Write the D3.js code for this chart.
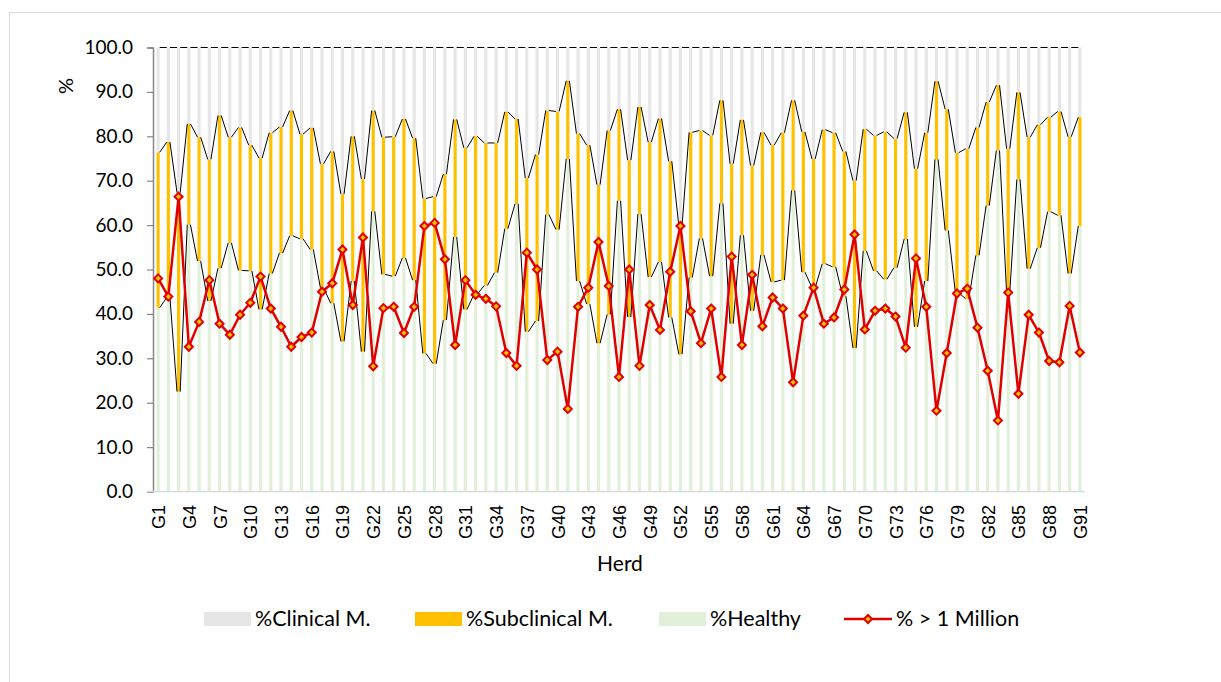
<!DOCTYPE html>
<html>
<head>
<meta charset="utf-8">
<script src="https://cdn.jsdelivr.net/npm/d3@7"></script>
<style>
body { margin: 0; background: #fff; }
svg { display: block; }
</style>
</head>
<body>
<script>
"use strict";
// herd names G1..G91
const herds = Array.from({length: 91}, (d, i) => "G" + (i + 1));
const healthy = [41.4,43.7,22.5,60.1,51.9,42.9,50.3,56.0,49.8,49.7,41.0,49.1,53.7,57.6,56.9,54.5,45.9,42.4,33.8,47.4,
	31.5,63.1,48.9,48.5,52.6,47.6,31.1,28.8,38.6,57.3,41.0,44.4,46.4,49.3,59.2,64.8,36.0,38.4,62.4,59.0,
	74.9,47.4,42.2,33.4,39.9,65.5,39.3,62.5,48.3,51.7,39.2,30.9,48.2,57.0,48.5,64.9,37.8,57.7,40.7,53.3,
	47.2,47.6,67.8,49.4,45.9,51.3,50.6,44.0,32.3,54.2,49.7,47.8,50.4,56.9,37.1,47.4,74.8,58.8,44.8,43.4,
	53.2,64.4,76.8,44.8,70.3,50.2,54.9,63.0,62.2,49.1,59.8];
const subclinical = [35.0,35.0,44.8,22.7,27.9,31.9,34.4,23.8,32.2,28.3,34.1,31.7,28.4,28.2,23.6,27.4,27.9,34.2,33.2,32.6,
	38.9,22.7,30.9,31.4,31.3,32.0,34.9,37.6,32.9,26.5,36.4,35.6,32.1,29.2,26.3,19.1,34.6,37.5,23.4,26.6,
	17.6,33.2,35.8,35.7,41.4,20.6,35.3,24.1,30.4,32.3,35.2,28.9,32.7,24.3,31.7,23.2,36.0,26.0,32.7,27.6,
	30.8,33.2,20.3,31.6,29.0,30.2,30.2,32.6,37.7,27.4,30.5,33.2,29.1,28.5,35.6,33.4,17.6,27.3,31.5,33.8,
	28.8,23.3,14.7,32.4,19.6,29.6,27.7,21.3,23.4,30.8,24.5];
const clinical = [23.6,21.3,32.7,17.2,20.2,25.2,15.3,20.2,18.0,22.0,24.9,19.2,17.9,14.2,19.5,18.1,26.2,23.4,33.0,20.0,
	29.6,14.2,20.2,20.1,16.1,20.4,34.0,33.6,28.5,16.2,22.6,20.0,21.5,21.5,14.5,16.1,29.4,24.1,14.2,14.4,
	7.5,19.4,22.0,30.9,18.7,13.9,25.4,13.4,21.3,16.0,25.6,40.2,19.1,18.7,19.8,11.9,26.2,16.3,26.6,19.1,
	22.0,19.2,11.9,19.0,25.1,18.5,19.2,23.4,30.0,18.4,19.8,19.0,20.5,14.6,27.3,19.2,7.6,13.9,23.7,22.8,
	18.0,12.3,8.5,22.8,10.1,20.2,17.4,15.7,14.4,20.1,15.7];
const overMillion = [48.0,43.9,66.4,32.6,38.2,47.6,37.8,35.3,39.8,42.5,48.4,41.2,37.1,32.6,34.8,35.8,45.0,46.9,54.5,42.0,
	57.2,28.2,41.3,41.6,35.7,41.6,59.8,60.5,52.3,33.0,47.6,44.3,43.4,41.7,31.2,28.3,53.8,50.0,29.6,31.5,
	18.6,41.6,45.9,56.2,46.3,25.8,50.0,28.3,42.0,36.4,49.5,59.8,40.6,33.4,41.2,25.8,52.9,33.0,48.8,37.2,
	43.7,41.2,24.6,39.6,45.9,37.8,39.2,45.5,57.9,36.5,40.7,41.2,39.4,32.4,52.5,41.6,18.2,31.2,44.6,45.7,
	36.9,27.2,16.0,44.8,22.0,39.8,35.8,29.4,29.1,41.8,31.3];
const yTicks = [0,10,20,30,40,50,60,70,80,90,100];
const seriesNames = ["%Clinical M.", "%Subclinical M.", "%Healthy", "% > 1 Million"];

const W = 1221, H = 682;
const colors = {healthy: "#E2F0D9", sub: "#FFC000", clin: "#E7E6E6", red: "#E00000"};
const svg = d3.select("body").append("svg").attr("width", W).attr("height", H);

svg.append("rect").attr("x", 9.5).attr("y", 12.5).attr("width", 1240).attr("height", 700)
	.attr("fill", "none").attr("stroke", "#D9D9D9");

const x = d3.scaleBand().domain(herds).range([153, 1085]).paddingInner(0.69).paddingOuter(0.345);
const y = d3.scaleLinear().domain([0, 100]).range([491.5, 47.5]);
const bw = x.bandwidth();

// stacked rows
const rows = herds.map((h, i) => ({herd: h, healthy: healthy[i], sub: subclinical[i], clin: clinical[i]}));
const stack = d3.stack().keys(["healthy", "sub", "clin"])(rows);
const fills = {healthy: colors.healthy, sub: colors.sub, clin: colors.clin};

svg.append("g").selectAll("g").data(stack).enter().append("g")
	.attr("fill", d => fills[d.key])
	.selectAll("rect").data(d => d).enter().append("rect")
	.attr("x", d => x(d.data.herd))
	.attr("y", d => y(d[1]))
	.attr("width", bw)
	.attr("height", d => y(d[0]) - y(d[1]));

// series lines between bars (Excel style)
const sl = svg.append("g").attr("stroke", "#000").attr("stroke-width", 1).attr("fill", "none");
stack.forEach(s => {
	for (let i = 0; i < s.length - 1; i++) {
		sl.append("line")
			.attr("x1", x(herds[i]) + bw).attr("y1", y(s[i][1]))
			.attr("x2", x(herds[i + 1])).attr("y2", y(s[i + 1][1]));
	}
});

// axes
const yAxis = d3.axisLeft(y).tickValues(yTicks).tickFormat(d3.format(".1f")).tickSize(6).tickPadding(14);
const gy = svg.append("g").attr("transform", "translate(153,0)").call(yAxis);
gy.select(".domain").attr("stroke", "#868686").attr("stroke-width", 1.5);
gy.selectAll(".tick line").attr("stroke", "#868686").attr("stroke-width", 1.2);
gy.selectAll(".tick text").attr("font-family", "Lato, 'Open Sans', sans-serif").attr("font-size", 19).attr("fill", "#000");

svg.append("line").attr("x1", 147).attr("x2", 1085).attr("y1", 491.5).attr("y2", 491.5)
	.attr("stroke", "#D9D9D9").attr("stroke-width", 1.5);

svg.append("g").selectAll("text").data(herds.filter((d, i) => i % 3 === 0)).enter().append("text")
	.attr("transform", d => "translate(" + (x(d) + bw / 2 + 1) + ",505) rotate(-90)")
	.attr("text-anchor", "end").attr("dominant-baseline", "central")
	.attr("font-family", "'Liberation Sans', Arial, sans-serif").attr("font-size", 18)
	.text(d => d);

svg.append("text").attr("x", 620).attr("y", 571).attr("text-anchor", "middle")
	.attr("font-family", "Lato, sans-serif").attr("font-size", 21).text("Herd");
svg.append("text").attr("transform", "translate(73,86) rotate(-90)").attr("text-anchor", "middle")
	.attr("font-family", "Lato, sans-serif").attr("font-size", 20).text("%");

// red line with diamond markers
const line = d3.line().x((d, i) => x(herds[i]) + bw / 2).y(d => y(d));
svg.append("path").datum(overMillion).attr("d", line)
	.attr("fill", "none").attr("stroke", colors.red).attr("stroke-width", 2.5).attr("stroke-linejoin", "round");
const diamond = "M0,-4L4,0L0,4L-4,0Z";
svg.append("g").selectAll("path").data(overMillion).enter().append("path")
	.attr("transform", (d, i) => "translate(" + (x(herds[i]) + bw / 2) + "," + y(d) + ")")
	.attr("d", diamond).attr("fill", colors.sub).attr("stroke", colors.red).attr("stroke-width", 2);

// legend
const lg = svg.append("g").attr("font-family", "Lato, sans-serif").attr("font-size", 21.5);
const legendX = [204, 415, 659, 844];
[colors.clin, colors.sub, colors.healthy].forEach((c, i) => {
	lg.append("rect").attr("x", legendX[i]).attr("y", 612).attr("width", 47).attr("height", 14).attr("fill", c);
	lg.append("text").attr("x", legendX[i] + 51).attr("y", 626).text(seriesNames[i]);
});
lg.append("line").attr("x1", 844).attr("x2", 892).attr("y1", 619).attr("y2", 619)
	.attr("stroke", colors.red).attr("stroke-width", 2.5);
lg.append("path").attr("transform", "translate(868,619)").attr("d", diamond)
	.attr("fill", colors.sub).attr("stroke", colors.red).attr("stroke-width", 2);
lg.append("text").attr("x", 896).attr("y", 626).text(seriesNames[3]);
</script>
</body>
</html>
